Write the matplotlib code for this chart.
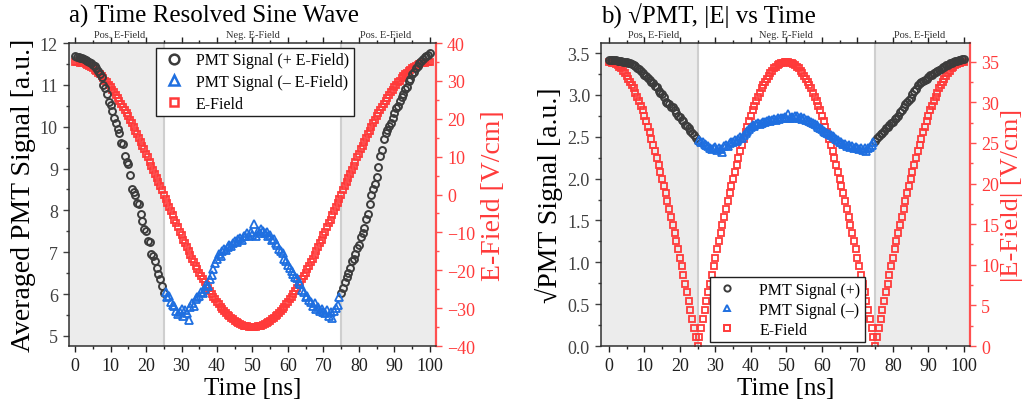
import numpy as np
import matplotlib
matplotlib.use('Agg')
import matplotlib.pyplot as plt
from matplotlib.lines import Line2D
from matplotlib.ticker import MultipleLocator, FormatStrFormatter

plt.rcParams['font.family'] = ['Liberation Serif', 'DejaVu Serif']

# ---------------- data ----------------
# sampling times [ns], 0.5 ns steps from 0 to 100
time_ns = np.arange(0, 100.01, 0.5)

# averaged PMT signal [a.u.] (rows of 5 ns)
pmt_signal = np.array([
    11.68, 11.66, 11.67, 11.64, 11.65, 11.62, 11.60, 11.58, 11.55, 11.52,
    11.48, 11.45, 11.40, 11.34, 11.26, 11.18, 11.00, 10.92, 10.78, 10.60,
    10.52, 10.38, 10.22, 10.08, 9.95, 9.85, 9.62, 9.58, 9.30, 9.15,
    9.10, 8.85, 8.50, 8.45, 8.36, 8.18, 8.15, 7.92, 7.74, 7.55,
    7.50, 7.26, 7.24, 6.95, 6.90, 6.78, 6.62, 6.48, 6.35, 6.20,
    6.02, 6.05, 5.92, 5.96, 5.80, 5.75, 5.72, 5.60, 5.52, 5.58,
    5.65, 5.48, 5.62, 5.55, 5.38, 5.70, 5.78, 5.72, 5.88, 5.92,
    5.95, 6.05, 6.02, 6.12, 6.22, 6.20, 6.36, 6.45, 6.60, 6.75,
    6.85, 6.95, 6.90, 7.02, 7.08, 7.05, 7.12, 7.18, 7.15, 7.22,
    7.28, 7.25, 7.32, 7.35, 7.30, 7.40, 7.38, 7.45, 7.40, 7.48,
    7.42, 7.68, 7.40, 7.50, 7.45, 7.55, 7.52, 7.45, 7.48, 7.38,
    7.42, 7.30, 7.32, 7.22, 7.18, 7.08, 7.02, 6.98, 6.85, 6.78,
    6.70, 6.62, 6.55, 6.48, 6.42, 6.38, 6.30, 6.25, 6.10, 6.05,
    5.92, 5.95, 5.85, 5.80, 5.72, 5.78, 5.65, 5.70, 5.60, 5.65,
    5.58, 5.55, 5.62, 5.48, 5.58, 5.42, 5.60, 5.68, 5.75, 5.92,
    6.02, 6.15, 6.28, 6.40, 6.50, 6.62, 6.78, 6.85, 6.96, 7.10,
    7.18, 7.36, 7.45, 7.58, 7.80, 7.92, 8.15, 8.36, 8.52, 8.64,
    8.80, 9.04, 9.30, 9.45, 9.70, 9.85, 9.92, 10.02, 10.08, 10.20,
    10.32, 10.45, 10.50, 10.62, 10.72, 10.78, 10.90, 10.95, 11.10, 11.15,
    11.25, 11.30, 11.40, 11.46, 11.52, 11.58, 11.62, 11.66, 11.70, 11.72,
    11.76,
])

# applied electric field [V/cm] (rows of 5 ns)
e_field = np.array([
    35.0, 35.0, 34.9, 34.8, 34.7, 34.6, 34.4, 34.2, 33.9, 33.6,
    33.3, 32.9, 32.5, 32.1, 31.7, 31.2, 30.7, 30.1, 29.6, 29.0,
    28.3, 27.7, 27.0, 26.3, 25.5, 24.7, 24.0, 23.1, 22.3, 21.4,
    20.6, 19.7, 18.8, 17.8, 16.9, 15.9, 14.9, 13.9, 12.9, 11.9,
    10.8, 9.8, 8.7, 7.6, 6.6, 5.5, 4.4, 3.3, 2.2, 1.1,
    0.0, -1.1, -2.2, -3.3, -4.4, -5.5, -6.6, -7.6, -8.7, -9.8,
    -10.8, -11.9, -12.9, -13.9, -14.9, -15.9, -16.9, -17.8, -18.8, -19.7,
    -20.6, -21.4, -22.3, -23.1, -24.0, -24.7, -25.5, -26.3, -27.0, -27.7,
    -28.3, -29.0, -29.6, -30.1, -30.7, -31.2, -31.7, -32.1, -32.5, -32.9,
    -33.3, -33.6, -33.9, -34.2, -34.4, -34.6, -34.7, -34.8, -34.9, -35.0,
    -35.0, -35.0, -34.9, -34.8, -34.7, -34.6, -34.4, -34.2, -33.9, -33.6,
    -33.3, -32.9, -32.5, -32.1, -31.7, -31.2, -30.7, -30.1, -29.6, -29.0,
    -28.3, -27.7, -27.0, -26.3, -25.5, -24.7, -24.0, -23.1, -22.3, -21.4,
    -20.6, -19.7, -18.8, -17.8, -16.9, -15.9, -14.9, -13.9, -12.9, -11.9,
    -10.8, -9.8, -8.7, -7.6, -6.6, -5.5, -4.4, -3.3, -2.2, -1.1,
    0.0, 1.1, 2.2, 3.3, 4.4, 5.5, 6.6, 7.6, 8.7, 9.8,
    10.8, 11.9, 12.9, 13.9, 14.9, 15.9, 16.9, 17.8, 18.8, 19.7,
    20.6, 21.4, 22.3, 23.1, 24.0, 24.7, 25.5, 26.3, 27.0, 27.7,
    28.3, 29.0, 29.6, 30.1, 30.7, 31.2, 31.7, 32.1, 32.5, 32.9,
    33.3, 33.6, 33.9, 34.2, 34.4, 34.6, 34.7, 34.8, 34.9, 35.0,
    35.0,
])

region_labels = ['Pos. E-Field', 'Neg. E-Field', 'Pos. E-Field']
region_label_x = [12.5, 50, 87.5]
region_edges = [25, 75]

positive = e_field >= 0
negative = ~positive

# ---------------- style ----------------
GRAY = '#3c3c3c'
BLUE = '#1f6fe0'
RED = '#ff3a3a'
RED_AX = '#ff5050'
SHADE = '#ececec'

fig = plt.figure(figsize=(10.27, 4.14), dpi=100)
axA = fig.add_axes([0.0672, 0.1618, 0.3573, 0.7319])
axB = fig.add_axes([0.5852, 0.1618, 0.3593, 0.7319])


def style_axes(ax, tw, xlim, ylim, ylim2, ymaj, ymin, y2maj, y2min):
    ax.set_zorder(tw.get_zorder() + 1)
    ax.patch.set_visible(False)
    ax.set_xlim(*xlim)
    tw.set_xlim(*xlim)
    ax.set_ylim(*ylim)
    tw.set_ylim(*ylim2)
    tw.axvspan(xlim[0], region_edges[0], color=SHADE, lw=0, zorder=0)
    tw.axvspan(region_edges[1], xlim[1], color=SHADE, lw=0, zorder=0)
    for xe in region_edges:
        tw.axvline(xe, color='#cfcfcf', lw=1.5, zorder=0.5)
    ax.xaxis.set_major_locator(MultipleLocator(10))
    ax.xaxis.set_minor_locator(MultipleLocator(5))
    ax.yaxis.set_major_locator(MultipleLocator(ymaj))
    ax.yaxis.set_minor_locator(MultipleLocator(ymin))
    tw.yaxis.set_major_locator(MultipleLocator(y2maj))
    tw.yaxis.set_minor_locator(MultipleLocator(y2min))
    ax.tick_params(axis='both', which='both', direction='out', width=1.0)
    ax.tick_params(axis='both', which='major', length=4.5)
    ax.tick_params(axis='both', which='minor', length=2.5)
    ax.tick_params(axis='x', which='both', top=True, labeltop=False,
                   labelsize=13, colors='#202020')
    ax.tick_params(axis='y', which='both', right=False, labelsize=13,
                   colors='#404040')
    tw.tick_params(axis='y', which='both', direction='out', colors=RED_AX,
                   labelsize=13, width=1.0)
    tw.tick_params(axis='y', which='major', length=4.5)
    tw.tick_params(axis='y', which='minor', length=2.5)
    for t in tw.get_yticklabels():
        t.set_color(RED)
    ax.spines['right'].set_visible(False)
    for s in ['left', 'bottom', 'top']:
        ax.spines[s].set_color('#303030')
        ax.spines[s].set_linewidth(1.1)
        tw.spines[s].set_visible(False)
    tw.spines['right'].set_color(RED_AX)
    tw.spines['right'].set_linewidth(1.6)
    for lx, lt in zip(region_label_x, region_labels):
        ax.text(lx, 1.012, lt, transform=ax.get_xaxis_transform(),
                ha='center', va='bottom', fontsize=7.5, color='#303030')
    ax.set_xlabel('Time [ns]', fontsize=18, labelpad=2)


# ---------------- panel a ----------------
twA = axA.twinx()
style_axes(axA, twA, (-1.7, 101.7), (4.76, 12), (-40, 40), 1, 0.5, 10, 5)
twA.plot(time_ns, e_field, 's', ms=4.3, mfc='none', mec=RED, mew=1.3,
         zorder=2)
axA.plot(time_ns[positive], pmt_signal[positive], 'o', ms=5, mfc='none',
         mec=GRAY, mew=1.4, zorder=3)
axA.plot(time_ns[negative], pmt_signal[negative], '^', ms=5.5, mfc='none',
         mec=BLUE, mew=1.3, zorder=3)
axA.set_ylabel('Averaged PMT Signal [a.u.]', fontsize=20, labelpad=3)
twA.set_ylabel('E-Field [V/cm]', fontsize=20, color=RED, labelpad=4)
axA.text(0.0, 1.09, 'a) Time Resolved Sine Wave', transform=axA.transAxes,
         ha='left', va='center', fontsize=18)
handlesA = [
    Line2D([], [], ls='none', marker='o', ms=7, mfc='none', mec=GRAY, mew=1.8),
    Line2D([], [], ls='none', marker='^', ms=7.5, mfc='none', mec=BLUE, mew=1.8),
    Line2D([], [], ls='none', marker='s', ms=6, mfc='none', mec=RED, mew=1.8),
]
legA = axA.legend(handlesA, ['PMT Signal (+ E-Field)', 'PMT Signal (\u2013 E-Field)',
                             'E-Field'],
                  loc='upper center', bbox_to_anchor=(0.507, 0.985),
                  fontsize=11.5, frameon=True, fancybox=False, framealpha=1,
                  edgecolor='#202020', labelspacing=0.35, handletextpad=0.6,
                  borderpad=0.3, handlelength=1.6, borderaxespad=0)
legA.get_frame().set_linewidth(1.0)

# ---------------- panel b ----------------
twB = axB.twinx()
style_axes(axB, twB, (-2.2, 101.7), (0, 3.62), (0, 37.3), 0.5, 0.25, 5, 2.5)
twB.plot(time_ns, np.abs(e_field), 's', ms=4.3, mfc='none', mec=RED, mew=1.3,
         zorder=2)
axB.plot(time_ns[positive], np.sqrt(pmt_signal[positive]), 'o', ms=5,
         mfc='none', mec=GRAY, mew=1.4, zorder=3)
axB.plot(time_ns[negative], np.sqrt(pmt_signal[negative]), '^', ms=5.5,
         mfc='none', mec=BLUE, mew=1.3, zorder=3)
axB.yaxis.set_major_formatter(FormatStrFormatter('%.1f'))
axB.set_ylabel('\u221aPMT Signal [a.u.]', fontsize=20, labelpad=3)
twB.set_ylabel('|E-Field| [V/cm]', fontsize=19, color=RED, labelpad=1)
axB.text(0.0, 1.09, 'b) \u221aPMT, |E| vs Time', transform=axB.transAxes,
         ha='left', va='center', fontsize=18)
handlesB = [
    Line2D([], [], ls='none', marker='o', ms=4.5, mfc='none', mec=GRAY, mew=1.4),
    Line2D([], [], ls='none', marker='^', ms=5, mfc='none', mec=BLUE, mew=1.4),
    Line2D([], [], ls='none', marker='s', ms=4, mfc='none', mec=RED, mew=1.4),
]
legB = axB.legend(handlesB, ['PMT Signal (+)', 'PMT Signal (\u2013)', 'E-Field'],
                  loc='lower center', bbox_to_anchor=(0.505, 0.012),
                  fontsize=11.5, frameon=True, fancybox=False, framealpha=1,
                  edgecolor='#202020', labelspacing=0.25, handletextpad=1.2,
                  borderpad=0.3, handlelength=1.6, borderaxespad=0)
legB.get_frame().set_linewidth(1.0)

fig.savefig('out.png', dpi=100)
